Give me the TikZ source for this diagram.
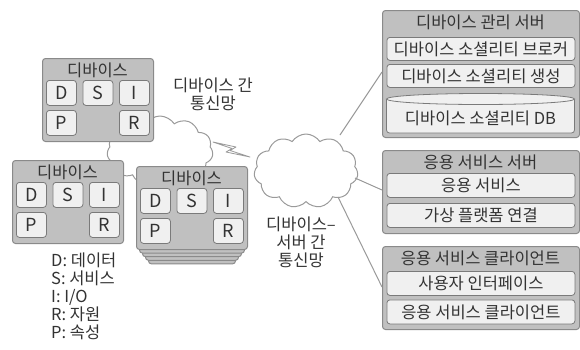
\documentclass[tikz,border=0pt]{standalone}
\usepackage{fontspec}
\setmainfont{Noto Sans CJK KR}
\usetikzlibrary{shapes.symbols}
\definecolor{outerfill}{HTML}{C0C0C0}
\definecolor{outerline}{HTML}{8A8A8A}
\definecolor{innerfill}{HTML}{F0F0F0}
\definecolor{innerline}{HTML}{7A7A7A}
\definecolor{txt}{HTML}{333333}
\definecolor{wire}{HTML}{9A9A9A}
\tikzset{
  outerbox/.style={draw=outerline, fill=outerfill, line width=1pt, rounded corners=3pt, inner sep=0pt},
  innerbox/.style={draw=innerline, fill=innerfill, line width=0.8pt, rounded corners=3pt, inner sep=0pt, text=txt, font=\fontsize{16.5}{18}\selectfont},
  letterbox/.style={innerbox, font=\fontsize{18}{18}\selectfont, minimum width=30pt, minimum height=25pt, anchor=north west},
  lbl/.style={text=txt, font=\fontsize{16.5}{18}\selectfont, inner sep=0pt},
  netcloud/.style={cloud, cloud puffs=11, cloud puff arc=115, draw=wire, fill=white, line width=1pt, inner sep=0pt},
  wireline/.style={draw=wire, line width=1pt},
}
\newcommand\mydevice[3]{%
  \node[outerbox, anchor=north west, minimum width=111pt, minimum height=83pt] (#1) at (#2,#3) {};
  \node[lbl] (#1-t) at (#2+55.5,#3+12) {디바이스};
  \node[letterbox] (#1-D) at (#2+4,#3+22) {D};
  \node[letterbox] (#1-S) at (#2+40.5,#3+22) {S};
  \node[letterbox] (#1-I) at (#2+77,#3+22) {I};
  \node[letterbox] (#1-P) at (#2+4,#3+52) {P};
  \node[letterbox] (#1-R) at (#2+77,#3+52) {R};
}
\begin{document}
\begin{tikzpicture}[x=1pt,y=-1pt]
\useasboundingbox[fill=white] (0,0) rectangle (580,349);

% clouds
\node[netcloud, minimum width=106pt, minimum height=70pt] (cl1) at (160,151) {};
\node[netcloud, minimum width=104pt, minimum height=74pt] (cl2) at (306,171) {};

% lightning
\draw[draw=wire, fill=white, line width=0.8pt, line join=round]
  (213,142) -- (236,147) -- (230,150.5) -- (250,157) -- (226,152) -- (232,148.5) -- cycle;

% devices
\mydevice{dev1}{42}{58}
\mydevice{dev2}{12}{160}
\foreach \k in {4,3,2,1}{
  \node[outerbox, anchor=north west, minimum width=111pt-6pt*\k, minimum height=83pt] (stack\k) at (136+3*\k,166+3.6*\k) {};
}
\mydevice{dev3}{136}{166}

% labels
\node[lbl, align=center] (lbl1) at (213,94) {디바이스 간\\통신망};
\node[lbl, align=center] (lbl2) at (301,242) {디바이스–\\서버 간\\통신망};
\node[lbl, align=left, anchor=north west] (legend) at (51,253) {D: 데이터\\S: 서비스\\I: I/O\\R: 자원\\P: 속성};

% server 1
\node[outerbox, anchor=north west, minimum width=197pt, minimum height=127pt] (srv1) at (382,10) {};
\node[lbl] (srv1-t) at (480.5,22.5) {디바이스 관리 서버};
\node[innerbox, anchor=north west, minimum width=188pt, minimum height=23pt] (srv1-a) at (386.5,37) {디바이스 소셜리티 브로커};
\node[innerbox, anchor=north west, minimum width=188pt, minimum height=23pt] (srv1-b) at (386.5,64) {디바이스 소셜리티 생성};
\draw[draw=innerline, fill=innerfill, line width=0.8pt, rounded corners=3pt] (386.5,99) -- (386.5,133) -- (574.5,133) -- (574.5,99);
\draw[draw=innerline, fill=innerfill, line width=0.8pt] (480.5,99) ellipse [x radius=94pt, y radius=5.5pt];
\node[lbl] (srv1-db) at (480.5,118) {디바이스 소셜리티 DB};

% server 2
\node[outerbox, anchor=north west, minimum width=197pt, minimum height=83pt] (srv2) at (382,150) {};
\node[lbl] (srv2-t) at (480.5,162) {응용 서비스 서버};
\node[innerbox, anchor=north west, minimum width=188pt, minimum height=24pt] (srv2-a) at (386.5,173) {응용 서비스};
\node[innerbox, anchor=north west, minimum width=188pt, minimum height=24pt] (srv2-b) at (386.5,203) {가상 플랫폼 연결};

% server 3
\node[outerbox, anchor=north west, minimum width=197pt, minimum height=83pt] (srv3) at (382,246) {};
\node[lbl] (srv3-t) at (480.5,258) {응용 서비스 클라이언트};
\node[innerbox, anchor=north west, minimum width=188pt, minimum height=24pt] (srv3-a) at (386.5,271) {사용자 인터페이스};
\node[innerbox, anchor=north west, minimum width=188pt, minimum height=24pt] (srv3-b) at (386.5,299.5) {응용 서비스 클라이언트};

% connectors
\coordinate (c2a) at (340,135);
\coordinate (c2b) at (355,178);
\coordinate (c2c) at (338,197);
\coordinate (s1in) at (382,72);
\coordinate (s2in) at (382,190);
\coordinate (s3in) at (382,287);
\draw[wireline] (c2a) -- (s1in);
\draw[wireline] (c2b) -- (s2in);
\draw[wireline] (c2c) -- (s3in);
\end{tikzpicture}
\end{document}
